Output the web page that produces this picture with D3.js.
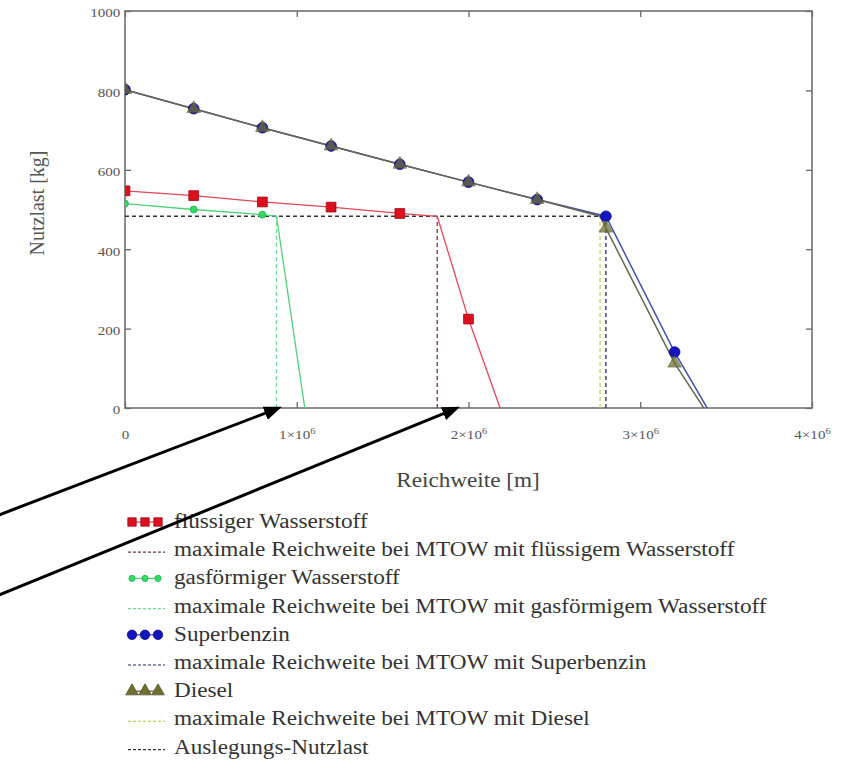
<!DOCTYPE html>
<html lang="de">
<head>
<meta charset="UTF-8">
<title>Nutzlast-Reichweiten-Diagramm</title>
<script src="https://d3js.org/d3.v7.min.js"></script>
<style>
  body { margin: 0; background: #fff; }
  svg, svg text { font-family: "Liberation Serif", "Times New Roman", serif; }
  svg { display: block; }
  .tick text { fill: #555; font-size: 13px; }
  .legend text { fill: #333; font-size: 20px; }
</style>
</head>
<body>
<svg id="chart"></svg>
<script>
// axes
const xTicks = [0, 1e6, 2e6, 3e6, 4e6];
const yTicks = [0, 200, 400, 600, 800, 1000];

// flüssiger Wasserstoff
const lh2LineX = [0, 4e5, 8e5, 1.2e6, 1.6e6, 1.818e6, 2.0e6, 2.4e6];
const lh2LineY = [547, 535, 519, 506, 490, 483, 224, -263];
const lh2MarkX = [0, 4e5, 8e5, 1.2e6, 1.6e6, 2.0e6];
const lh2MarkY = [547, 535, 519, 506, 490, 224];

// gasförmiger Wasserstoff
const gh2LineX = [0, 4e5, 8e5, 8.82e5, 1.2e6];
const gh2LineY = [515, 500, 487, 483, -450];
const gh2MarkX = [0, 4e5, 8e5];
const gh2MarkY = [515, 500, 487];

// Superbenzin
const benzLineX = [0, 4e5, 8e5, 1.2e6, 1.6e6, 2.0e6, 2.4e6, 2.8e6, 3.2e6, 3.6e6];
const benzLineY = [802, 754, 706, 660, 614, 569, 525, 483, 141, -156];
const benzMarkX = [0, 4e5, 8e5, 1.2e6, 1.6e6, 2.0e6, 2.4e6, 2.8e6, 3.2e6];
const benzMarkY = [802, 754, 706, 660, 614, 569, 525, 483, 141];

// Diesel
const dieselLineX = [0, 4e5, 8e5, 1.2e6, 1.6e6, 2.0e6, 2.4e6, 2.766e6, 2.8e6, 3.2e6, 3.6e6];
const dieselLineY = [802, 754, 706, 660, 614, 569, 525, 483, 453, 113, -153];
const dieselMarkX = [0, 4e5, 8e5, 1.2e6, 1.6e6, 2.0e6, 2.4e6, 2.8e6, 3.2e6];
const dieselMarkY = [802, 754, 706, 660, 614, 569, 525, 453, 113];

// maximale Reichweite bei MTOW und Auslegungs-Nutzlast
const designPayload = 483;
const mtowNames = ["lh2", "gh2", "benz", "diesel"];
const mtowRange = [1.818e6, 8.82e5, 2.8e6, 2.766e6];
const designX = [0, 2.8e6];

// Pfeile (Datenkoordinaten)
const arrowFromX = [-0.75e6, -0.75e6];
const arrowFromY = [-272, -474];
const arrowToX = [0.914e6, 1.951e6];
const arrowToY = [3, 3];

const legendLabels = [
  "flüssiger Wasserstoff",
  "maximale Reichweite bei MTOW mit flüssigem Wasserstoff",
  "gasförmiger Wasserstoff",
  "maximale Reichweite bei MTOW mit gasförmigem Wasserstoff",
  "Superbenzin",
  "maximale Reichweite bei MTOW mit Superbenzin",
  "Diesel",
  "maximale Reichweite bei MTOW mit Diesel",
  "Auslegungs-Nutzlast"
];
const legendKinds = ["lh2", "lh2-dash", "gh2", "gh2-dash", "benz", "benz-dash", "diesel", "diesel-dash", "design"];

const width = 849, height = 766;
const padL = 125, padR = 812, padT = 11, padB = 408;
const stretch = 1.16;
const serif = '"Liberation Serif", "Times New Roman", serif';

const colors = {
  lh2: "#dd1020", lh2Line: "#e04858", lh2Dash: "#6a3848",
  gh2: "#30dd60", gh2Line: "#50d078", gh2Dash: "#70d890",
  benz: "#1414c0", benzLine: "#4450b0", benzDash: "#202a60",
  diesel: "#6f7030", dieselLine: "#666650", dieselDash: "#c8d060",
  design: "#333"
};

const x = d3.scaleLinear().domain([0, 4e6]).range([padL, padR]);
const y = d3.scaleLinear().domain([0, 1000]).range([padB, padT]);

const svg = d3.select("#chart").attr("width", width).attr("height", height);

const defs = svg.append("defs");
defs.append("clipPath").attr("id", "plot")
  .append("rect")
  .attr("x", padL).attr("y", padT)
  .attr("width", padR - padL).attr("height", padB - padT);

// axes with inward ticks
const gx = svg.append("g").attr("transform", `translate(0,${padB})`)
  .call(d3.axisBottom(x).tickValues(xTicks).tickSizeInner(-6).tickSizeOuter(0).tickPadding(22));
gx.selectAll(".tick text").each(function(d) {
  const t = d3.select(this).text("").attr("transform", `scale(${stretch},1)`);
  if (d === 0) { t.text("0"); return; }
  t.append("tspan").text(`${d / 1e6}×10`);
  t.append("tspan").attr("dy", "-0.6em").style("font-size", "9px").text("6");
});
const gxTop = svg.append("g").attr("transform", `translate(0,${padT})`)
  .call(d3.axisTop(x).tickValues(xTicks).tickSizeInner(-6).tickSizeOuter(0).tickFormat(""));

const gy = svg.append("g").attr("transform", `translate(${padL},0)`)
  .call(d3.axisLeft(y).tickValues(yTicks).tickFormat(d3.format("d"))
    .tickSizeInner(-6).tickSizeOuter(0).tickPadding(4));
gy.selectAll(".tick text").attr("transform", `scale(${stretch},1)`).attr("dy", "0.45em");
const gyRight = svg.append("g").attr("transform", `translate(${padR},0)`)
  .call(d3.axisRight(y).tickValues(yTicks).tickSizeInner(-6).tickSizeOuter(0).tickFormat(""));

[gx, gxTop, gy, gyRight].forEach(g => {
  g.attr("font-family", serif).attr("font-size", 13);
  g.select(".domain").remove();
  g.selectAll(".tick line").attr("stroke", "#666").attr("stroke-width", 1.3);
});

svg.append("rect")
  .attr("x", padL).attr("y", padT)
  .attr("width", padR - padL).attr("height", padB - padT)
  .attr("fill", "none").attr("stroke", "#707070").attr("stroke-width", 1.6);

// axis titles
svg.append("text")
  .attr("transform", `translate(468,487) scale(${stretch},1)`)
  .attr("text-anchor", "middle").attr("font-size", 20).attr("fill", "#444")
  .attr("font-family", serif)
  .text("Reichweite [m]");
svg.append("text")
  .attr("transform", "translate(44,203) rotate(-90)")
  .attr("text-anchor", "middle").attr("font-size", 20).attr("fill", "#555")
  .attr("font-family", serif)
  .text("Nutzlast [kg]");

const plot = svg.append("g").attr("clip-path", "url(#plot)");
const line = d3.line().x(d => x(d[0])).y(d => y(d[1]));
const zip = (a, b) => a.map((v, i) => [v, b[i]]);

// MTOW verticals and design payload
const mtowColor = { lh2: colors.lh2Dash, gh2: colors.gh2Dash, benz: colors.benzDash, diesel: colors.dieselDash };
plot.selectAll(".mtow").data(mtowNames).join("line")
  .attr("class", "mtow")
  .attr("x1", (d, i) => x(mtowRange[i])).attr("x2", (d, i) => x(mtowRange[i]))
  .attr("y1", y(0)).attr("y2", y(designPayload))
  .attr("stroke", d => mtowColor[d]).attr("stroke-width", 1.3)
  .attr("stroke-dasharray", "4,3");
plot.append("path")
  .datum(designX.map(v => [v, designPayload]))
  .attr("d", line).attr("fill", "none")
  .attr("stroke", colors.design).attr("stroke-width", 1.3).attr("stroke-dasharray", "4,3");

// series lines
const series = [
  { key: "gh2", lx: gh2LineX, ly: gh2LineY, color: colors.gh2Line, w: 1.3 },
  { key: "lh2", lx: lh2LineX, ly: lh2LineY, color: colors.lh2Line, w: 1.3 },
  { key: "benz", lx: benzLineX, ly: benzLineY, color: colors.benzLine, w: 1.5 },
  { key: "diesel", lx: dieselLineX, ly: dieselLineY, color: colors.dieselLine, w: 1.5 }
];
series.forEach(s => {
  plot.append("path").datum(zip(s.lx, s.ly))
    .attr("d", line).attr("fill", "none")
    .attr("stroke", s.color).attr("stroke-width", s.w);
});

// markers
const sym = {
  lh2: d3.symbol(d3.symbolSquare, 95),
  gh2: d3.symbol(d3.symbolCircle, 38),
  benz: d3.symbol(d3.symbolCircle, 90),
  diesel: d3.symbol(d3.symbolTriangle, 80)
};
const markerStyle = {
  lh2: { fill: colors.lh2, stroke: "#a00010", op: 1 },
  gh2: { fill: colors.gh2, stroke: "#20b050", op: 1 },
  benz: { fill: colors.benz, stroke: "#0a0a90", op: 1 },
  diesel: { fill: colors.diesel, stroke: "#555530", op: 0.75 }
};
function drawMarkers(g, key, xs, ys) {
  g.selectAll(`.m-${key}`).data(zip(xs, ys)).join("path")
    .attr("class", `m-${key}`)
    .attr("transform", d => `translate(${x(d[0])},${y(d[1])})`)
    .attr("d", sym[key])
    .attr("fill", markerStyle[key].fill)
    .attr("stroke", markerStyle[key].stroke).attr("stroke-width", 0.8)
    .attr("opacity", markerStyle[key].op);
}
drawMarkers(plot, "gh2", gh2MarkX, gh2MarkY);
drawMarkers(plot, "lh2", lh2MarkX, lh2MarkY);
drawMarkers(plot, "benz", benzMarkX, benzMarkY);
drawMarkers(plot, "diesel", dieselMarkX, dieselMarkY);

// legend
const legend = svg.append("g").attr("class", "legend").attr("font-family", serif);
const rowY = i => 522 + i * 28.2;
legendKinds.forEach((kind, i) => {
  const g = legend.append("g").attr("transform", `translate(0,${rowY(i)})`);
  const base = kind.split("-")[0];
  if (kind.endsWith("-dash") || kind === "design") {
    const c = kind === "design" ? colors.design : mtowColor[base];
    g.append("line").attr("x1", 128).attr("x2", 165).attr("y1", 2).attr("y2", 2)
      .attr("stroke", c).attr("stroke-width", 1.2).attr("stroke-dasharray", "3,2");
  } else {
    g.append("line").attr("x1", 130).attr("x2", 160).attr("y1", 0).attr("y2", 0)
      .attr("stroke", colors[base + "Line"]).attr("stroke-width", 1.3);
    [132, 145, 158].forEach(px => {
      g.append("path").attr("transform", `translate(${px},0)`)
        .attr("d", d3.symbol(sym[base].type(), base === "gh2" ? 30 : 70))
        .attr("fill", markerStyle[base].fill)
        .attr("stroke", markerStyle[base].stroke).attr("stroke-width", 0.8);
    });
  }
  g.append("text")
    .attr("font-family", serif)
    .attr("transform", `translate(174,6) scale(${stretch},1)`)
    .text(legendLabels[i]);
});

// arrows
defs.append("marker").attr("id", "head")
  .attr("markerUnits", "userSpaceOnUse")
  .attr("viewBox", "0 0 18 14").attr("refX", 18).attr("refY", 7)
  .attr("markerWidth", 18).attr("markerHeight", 14).attr("orient", "auto")
  .append("path").attr("d", "M0,0 L18,7 L0,14 Z").attr("fill", "#000");
arrowFromX.forEach((fx, i) => {
  const x1 = x(fx), y1 = y(arrowFromY[i]);
  const x2 = x(arrowToX[i]), y2 = y(arrowToY[i]);
  const len = Math.hypot(x2 - x1, y2 - y1);
  const k = (len - 12) / len;
  svg.append("line")
    .attr("x1", x1).attr("y1", y1)
    .attr("x2", x1 + (x2 - x1) * k).attr("y2", y1 + (y2 - y1) * k)
    .attr("stroke", "#000").attr("stroke-width", 3);
  svg.append("path")
    .attr("d", `M${x1},${y1}L${x2},${y2}`)
    .attr("stroke", "none").attr("fill", "none")
    .attr("marker-end", "url(#head)");
});
</script>
</body>
</html>
